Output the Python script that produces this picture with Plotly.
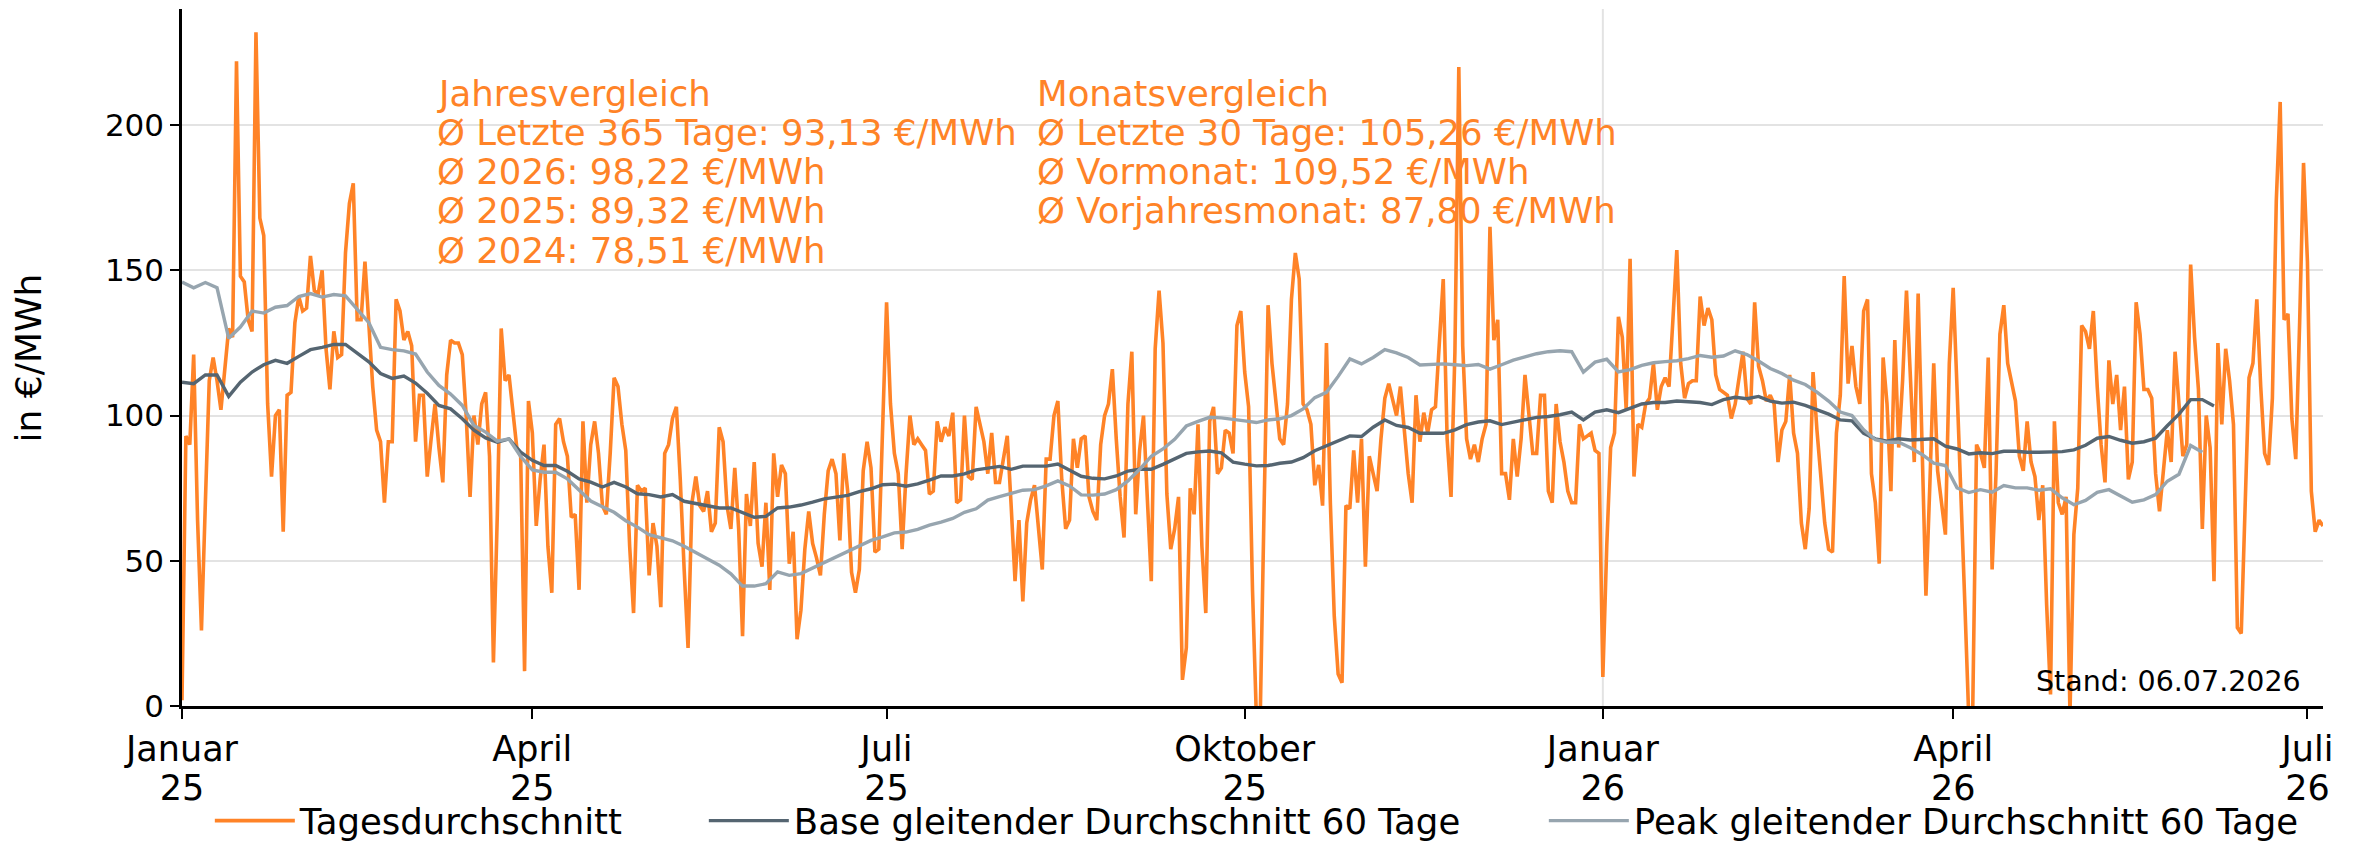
import pandas as pd
import plotly.graph_objects as go

# Tagesdurchschnitt (EUR/MWh), one value per day starting 01.01.2025
start_date = "2025-01-01"
daily_avg = [
    2, 93, 90, 121, 64, 26, 70, 112, 120, 112,
    102, 115, 130, 127, 222, 148, 146, 133, 129, 232,
    168, 162, 104, 79, 100, 102, 60, 107, 108, 132,
    141, 136, 137, 155, 143, 142, 150, 123, 109, 129,
    120, 121, 156, 173, 180, 133, 133, 153, 132, 110,
    95, 91, 70, 91, 91, 140, 136, 126, 129, 124,
    91, 107, 107, 79, 92, 104, 89, 77, 114, 126,
    125, 125, 121, 100, 72, 100, 90, 104, 108, 86,
    15, 66, 130, 112, 114, 100, 89, 86, 12, 105,
    94, 62, 78, 90, 55, 39, 97, 99, 91, 86,
    65, 66, 40, 98, 70, 90, 98, 87, 69, 66,
    87, 113, 110, 97, 88, 55, 32, 76, 74, 75,
    45, 63, 55, 34, 87, 90, 99, 103, 78, 47,
    20, 70, 79, 69, 67, 74, 60, 63, 96, 91,
    69, 61, 82, 61, 24, 73, 62, 84, 56, 48,
    70, 40, 87, 72, 83, 80, 49, 60, 23, 33,
    54, 67, 56, 51, 45, 66, 81, 85, 80, 57,
    87, 74, 46, 39, 47, 81, 91, 82, 53, 54,
    101, 139, 104, 87, 80, 54, 80, 100, 90, 92,
    90, 88, 73, 74, 98, 91, 96, 93, 101, 70,
    71, 100, 79, 78, 103, 97, 91, 80, 94, 77,
    77, 85, 93, 69, 43, 64, 36, 63, 71, 76,
    63, 47, 85, 85, 100, 105, 78, 61, 64, 92,
    82, 92, 93, 72, 67, 64, 90, 100, 104, 116,
    92, 72, 58, 104, 122, 66, 88, 100, 71, 43,
    123, 143, 125, 73, 54, 61, 72, 9, 20, 75,
    66, 97, 55, 32, 98, 103, 80, 82, 95, 94,
    87, 131, 136, 115, 103, 40, -4, -3, 70, 138,
    118, 104, 92, 90, 104, 140, 156, 147, 104, 102,
    97, 76, 83, 69, 125, 70, 31, 11, 8, 69,
    68, 88, 70, 92, 48, 86, 80, 74, 92, 106,
    111, 105, 100, 110, 95, 80, 70, 107, 91, 101,
    94, 102, 103, 126, 147, 92, 72, 122, 220, 124,
    92, 85, 90, 84, 92, 97, 165, 126, 133, 80,
    80, 71, 92, 79, 92, 114, 100, 87, 87, 107,
    107, 74, 70, 104, 91, 84, 74, 70, 70, 97,
    92, 93, 94, 88, 87, 10, 55, 89, 94, 134,
    127, 102, 154, 79, 97, 96, 104, 106, 118, 102,
    110, 113, 110, 133, 157, 118, 106, 111, 112, 112,
    141, 131, 137, 133, 114, 109, 108, 107, 99, 104,
    113, 122, 106, 104, 139, 117, 112, 105, 107, 104,
    84, 95, 98, 114, 94, 87, 63, 54, 68, 115,
    95, 77, 63, 54, 53, 94, 107, 148, 111, 124,
    110, 104, 136, 140, 80, 70, 49, 120, 104, 74,
    126, 89, 112, 143, 113, 84, 142, 86, 38, 76,
    118, 81, 70, 59, 118, 144, 109, 75, 35, -4,
    -3, 90, 87, 82, 120, 47, 80, 128, 138, 118,
    111, 105, 86, 81, 98, 84, 79, 64, 76, 35,
    4, 98, 70, 66, 72, -3, 59, 75, 131, 129,
    123, 136, 110, 90, 77, 119, 104, 114, 95, 110,
    78, 84, 139, 128, 109, 109, 106, 80, 67, 80,
    95, 84, 122, 104, 86, 90, 152, 127, 109, 61,
    100, 89, 43, 125, 97, 123, 112, 97, 27, 25,
    69, 113, 118, 140, 110, 87, 83, 106, 174, 208,
    133, 135, 99, 85, 132, 187, 153, 74, 60, 64,
    62,
]

# gleitende Durchschnitte, read every 3 days from 01.01.2025
ma_step_days = 3
base_ma60 = [
    111.5, 111, 114, 114, 106.6, 111.5, 115, 117.5, 119, 118,
    120.4, 122.7, 123.5, 124.5, 124.5, 121.5, 118.5, 114.5, 112.8, 113.6,
    111.2, 107.7, 103.5, 102.3, 98.9, 95, 92.3, 90.8, 92, 87.4,
    84.6, 82.8, 82.8, 80.8, 78.2, 77.1, 75.4, 77, 75.4, 73.1,
    72.8, 72, 72.8, 70.5, 69.7, 69, 68.2, 68.2, 66.7, 65,
    65.3, 68.2, 68.5, 69.2, 70.2, 71.3, 71.9, 72.5, 73.8, 74.8,
    76.2, 76.4, 75.7, 76.5, 77.8, 79.2, 79.2, 79.9, 81.3, 82,
    82.5, 81.5, 82.6, 82.6, 82.6, 83.3, 81.2, 79.1, 78.4, 78.2,
    79.2, 80.9, 81.5, 81.5, 83.2, 85, 87, 87.5, 87.8, 87.2,
    84, 83.3, 82.7, 82.8, 83.6, 84, 85.5, 87.9, 89.6, 91.2,
    93, 92.8, 96, 98.5, 96.6, 95.9, 93.9, 93.9, 93.9, 95.1,
    96.9, 97.8, 98.2, 96.9, 97.8, 98.5, 99.4, 99.7, 100.3, 101.2,
    98.5, 101.2, 102, 101, 102.5, 104, 104.5, 104.5, 105, 104.8,
    104.5, 103.8, 105.5, 106.3, 105.8, 106.6, 105, 104.3, 104.6, 103.5,
    102, 100.5, 98.5, 98.2, 93.9, 92, 91.2, 92, 91.6, 91.7,
    92, 89.5, 88.5, 86.8, 87.2, 86.9, 87.7, 87.7, 87.4, 87.4,
    87.4, 87.6, 88.2, 89.8, 92.2, 92.8, 91.5, 90.5, 91, 92.2,
    96.5, 100.5, 105.5, 105.5, 103.3,
]
peak_ma60 = [
    146, 144, 145.8, 144, 126.6, 130.5, 136, 135.3, 137.3, 137.9,
    141, 142, 140.8, 141.7, 141.2, 136.6, 132, 123.5, 122.7, 122.3,
    121.2, 115, 110.4, 107.4, 103.5, 96.6, 94.3, 91.2, 92, 85.9,
    81.3, 80.5, 80.5, 78.2, 74.5, 70.6, 68.6, 66.7, 63.8, 61.6,
    59, 57.9, 56.9, 55, 52.9, 50.5, 48.5, 45.5, 41.3, 41.3,
    42.1, 46.2, 45, 45.6, 47.5, 49.5, 51.5, 53.1, 55.1, 57,
    58.2, 59.6, 59.9, 60.8, 62.3, 63.3, 64.6, 66.7, 67.9, 70.9,
    72.1, 73.3, 74.3, 74.5, 75.8, 77.5, 75.8, 72.7, 72.6, 73,
    74.5, 77.5, 81.5, 86, 88.5, 91.8, 96.4, 98, 99.4, 99.2,
    98.8, 98.2, 97.6, 98.5, 98.9, 100, 102.3, 106.2, 108, 113.5,
    119.5, 117.8, 120, 122.7, 121.6, 120, 117.4, 117.5, 117.8, 117.5,
    117.2, 117.6, 116, 117.5, 119.1, 120.2, 121.3, 122, 122.3, 122,
    115, 118.4, 119.4, 115, 115.8, 117.3, 118.2, 118.6, 118.9, 119.6,
    120.7, 120.1, 120.5, 122.3, 121, 118.8, 116.2, 114.5, 112.2, 110.7,
    108.1, 105, 101.2, 100, 95.1, 91.7, 90.8, 90.8, 88.9, 86.6,
    83.6, 82.8, 75.1, 73.5, 74.5, 73.6, 75.9, 75.1, 75.1, 74.3,
    74.8, 71.7, 69.3, 70.8, 73.6, 74.5, 72.5, 70.2, 71, 72.8,
    77.4, 79.8, 89.7, 87.4,
]

tick_dates = ["2025-01-01", "2025-04-01", "2025-07-01", "2025-10-01",
              "2026-01-01", "2026-04-01", "2026-07-01"]
tick_months = ["Januar", "April", "Juli", "Oktober", "Januar", "April", "Juli"]
tick_years = ["25", "25", "25", "25", "26", "26", "26"]
year_lines = ["2026-01-01"]

jahres_text = ["Jahresvergleich",
               "Ø Letzte 365 Tage: 93,13 €/MWh",
               "Ø 2026: 98,22 €/MWh",
               "Ø 2025: 89,32 €/MWh",
               "Ø 2024: 78,51 €/MWh"]
monats_text = ["Monatsvergleich",
               "Ø Letzte 30 Tage: 105,26 €/MWh",
               "Ø Vormonat: 109,52 €/MWh",
               "Ø Vorjahresmonat: 87,80 €/MWh"]
stand_text = "Stand: 06.07.2026"

ORANGE = "#FF8327"
BASE = "#556571"
PEAK = "#97A5AF"
FONT = "DejaVu Sans"

days = pd.date_range(start_date, periods=len(daily_avg), freq="D")
base_days = pd.date_range(start_date, periods=len(base_ma60), freq=f"{ma_step_days}D")
peak_days = pd.date_range(start_date, periods=len(peak_ma60), freq=f"{ma_step_days}D")

fig = go.Figure()
fig.add_trace(go.Scatter(x=days, y=daily_avg, mode="lines", name="Tagesdurchschnitt",
                         line=dict(color=ORANGE, width=3.6), legendwidth=399))
fig.add_trace(go.Scatter(x=base_days, y=base_ma60, mode="lines",
                         name="Base gleitender Durchschnitt 60 Tage",
                         line=dict(color=BASE, width=3.4), legendwidth=745))
fig.add_trace(go.Scatter(x=peak_days, y=peak_ma60, mode="lines",
                         name="Peak gleitender Durchschnitt 60 Tage",
                         line=dict(color=PEAK, width=3.4), legendwidth=670))

for d in year_lines:
    fig.add_shape(type="line", xref="x", yref="paper", x0=d, x1=d, y0=0, y1=1,
                  line=dict(color="#E3E3E3", width=2), layer="below")

# text blocks, one annotation per line
line_y = [211, 197.5, 184, 170.5, 157]
for i, t in enumerate(jahres_text):
    fig.add_annotation(x=0.118, xref="paper", y=line_y[i], yref="y", text=t,
                       xanchor="left", yanchor="middle", showarrow=False,
                       font=dict(family=FONT, size=35.5, color=ORANGE))
for i, t in enumerate(monats_text):
    fig.add_annotation(x=0.3984, xref="paper", y=line_y[i], yref="y", text=t,
                       xanchor="left", yanchor="middle", showarrow=False,
                       font=dict(family=FONT, size=35.5, color=ORANGE))

fig.add_annotation(x=0.9906, xref="paper", y=8.5, yref="y", text=stand_text,
                   xanchor="right", yanchor="middle", showarrow=False,
                   font=dict(family=FONT, size=28.5, color="black"))
fig.add_annotation(x=-0.0715, xref="paper", y=0.5, yref="paper", text="in €/MWh",
                   textangle=-90, xanchor="center", yanchor="middle", showarrow=False,
                   font=dict(family=FONT, size=36, color="black"))

x_range = [days[0], days[-1]]
fig.update_layout(
    xaxis=dict(
        range=x_range,
        tickvals=tick_dates, ticktext=tick_months,
        showgrid=False, zeroline=False,
        showline=True, linecolor="black", linewidth=2.5,
        ticks="outside", ticklen=10, tickwidth=2, tickcolor="black",
        tickfont=dict(family=FONT, size=35, color="black"),
    ),
    # second row of tick labels (year)
    xaxis2=dict(
        range=x_range, overlaying="x", matches="x", anchor="y", side="bottom",
        tickvals=tick_dates, ticktext=tick_years,
        showgrid=False, zeroline=False, showline=False,
        ticks="outside", ticklen=10, tickcolor="rgba(0,0,0,0)",
        ticklabelstandoff=41,
        tickfont=dict(family=FONT, size=35, color="black"),
    ),
    yaxis=dict(
        range=[0, 240],
        tickvals=[0, 50, 100, 150, 200],
        showgrid=True, gridcolor="#E3E3E3", gridwidth=2, zeroline=False,
        showline=True, linecolor="black", linewidth=2.5,
        ticks="outside", ticklen=9, tickwidth=2, tickcolor="black",
        tickfont=dict(family=FONT, size=31, color="black"),
    ),
)
# invisible helper trace so the year axis is drawn
fig.add_trace(go.Scatter(x=x_range, y=[None, None], xaxis="x2", mode="lines",
                         showlegend=False, hoverinfo="skip"))

# the page adds an 8px body margin, so the figure is 8px smaller than the window
fig.update_layout(
    width=2351, height=834, autosize=False,
    margin=dict(l=174, r=36, t=1, b=136, autoexpand=False),
    plot_bgcolor="white", paper_bgcolor="white",
    font=dict(family=FONT, size=35, color="black"),
    showlegend=True,
    legend=dict(orientation="h", x=0.013, xanchor="left", y=-0.165, yanchor="middle",
                itemwidth=80, font=dict(family=FONT, size=35.5, color="black"),
                bgcolor="rgba(0,0,0,0)"),
)

fig.write_html("out.html")
